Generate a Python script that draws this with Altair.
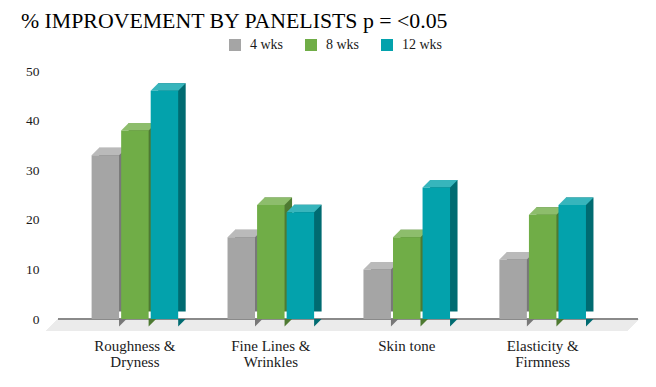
import altair as alt
import pandas as pd

categories = ["Roughness & Dryness", "Fine Lines & Wrinkles", "Skin tone", "Elasticity & Firmness"]
series = ["4 wks", "8 wks", "12 wks"]
wk4 = [33, 16.5, 10, 12]
wk8 = [38, 23, 16.5, 21]
wk12 = [46, 21.5, 26.5, 23]

front_colors = ["#a5a5a5", "#70ad47", "#03a2ac"]
top_colors = ["#bababa", "#8dbd6c", "#37b5bc"]
side_colors = ["#787878", "#4e7a32", "#006b71"]

rows = []
for s, vals in zip(series, [wk4, wk8, wk12]):
    for c, v in zip(categories, vals):
        rows.append({"category": c, "series": s, "value": v})
df = pd.DataFrame(rows)

W, H = 580, 248
D = 7.5  # 3D depth in px
PI, PO, ALIGN = 0.363, 0.315, 0.48
PI_OFF = 0.07
step = W / (len(categories) - PI + 2 * PO)
band = step * (1 - PI)
bw = band / (len(series) - PI_OFF) * (1 - PI_OFF)
hb = bw / 2

top_path = f"M{-hb - D:.2f},0 L{hb - D:.2f},0 L{hb:.2f},{-D} L{-hb:.2f},{-D} Z"
tri_path = f"M{hb - D:.2f},0 L{hb - D:.2f},{D} L{hb:.2f},0 Z"
floor_path = "M-290,0 L291,0 L279,12 L-302,12 Z"

font = "Liberation Serif"
label_expr = ("indexof(datum.label, '& ') > 0 ? "
              "[slice(datum.label, 0, indexof(datum.label, '& ') + 1), "
              "slice(datum.label, indexof(datum.label, '& ') + 2)] : datum.label")


def x_enc(shift, show_axis):
    axis = (alt.Axis(title=None, labelExpr=label_expr, ticks=False, domain=False, labelPadding=19,
                     labelLineHeight=16, labelAngle=0, labelFontSize=15)
            if show_axis else None)
    return alt.X("category:N", sort=categories,
                 scale=alt.Scale(type="band", paddingInner=PI, paddingOuter=PO, align=ALIGN,
                                 range=[shift, W + shift]),
                 axis=axis)


xo_enc = alt.XOffset("series:N", sort=series,
                     scale=alt.Scale(type="band", paddingInner=PI_OFF, paddingOuter=0))
y_scale = alt.Scale(domain=[0, 50], nice=False)
y_enc = alt.Y("value:Q", scale=y_scale,
              axis=alt.Axis(title=None, values=[0, 10, 20, 30, 40, 50], domain=False, ticks=False,
                            gridColor="#d9d9d9", gridWidth=1, labelPadding=19, labelFontSize=13.5))


def col(rng, legend=None):
    return alt.Color("series:N", sort=series, scale=alt.Scale(domain=series, range=rng), legend=legend)


base = alt.Chart(df)

floor = base.mark_point(
    shape=floor_path, size=4, filled=True, opacity=1, strokeWidth=0, color="#ebebeb"
).encode(x=alt.value(290), y=alt.Y(datum=0, scale=y_scale))

zero = base.mark_rule(color="#8a8a8a", strokeWidth=1.5).encode(y=alt.Y(datum=0, scale=y_scale))

back = base.mark_bar(yOffset=-D).encode(
    x=x_enc(0, False), xOffset=xo_enc, y=y_enc, color=col(side_colors))

tri = base.mark_point(shape=tri_path, size=4, filled=True, opacity=1, strokeWidth=0).encode(
    x=x_enc(0, False), xOffset=xo_enc, y=alt.Y(datum=0, scale=y_scale), color=col(side_colors))

top = base.mark_point(shape=top_path, size=4, filled=True, opacity=1, strokeWidth=0).encode(
    x=x_enc(0, False), xOffset=xo_enc, y=y_enc, color=col(top_colors))

front = base.mark_bar(y2Offset=D).encode(
    x=x_enc(-D, True), xOffset=xo_enc, y=y_enc,
    color=col(front_colors, alt.Legend(orient="none", legendX=170, legendY=-33, direction="horizontal",
                                       title=None, symbolType="square", symbolSize=144,
                                       symbolStrokeWidth=0, symbolOpacity=1, labelFont=font,
                                       labelFontSize=14, labelColor="#1a1a1a", labelOffset=8,
                                       columnPadding=20)))

chart = alt.layer(floor, zero, back, tri, top, front).resolve_scale(
    x="independent", xOffset="independent", color="independent"
).properties(
    width=W, height=H,
    autosize=alt.AutoSizeParams(type="none"),
    padding={"left": 50, "top": 63, "right": 10, "bottom": 55},
    title=alt.TitleParams("% IMPROVEMENT BY PANELISTS p = <0.05", anchor="start", frame="group",
                          font=font, fontSize=21.8, fontWeight="normal", color="#000000",
                          dx=-37, dy=-1.5)
).configure(
    background="white"
).configure_view(
    stroke=None
).configure_axis(
    labelFont=font, labelColor="#1a1a1a"
)

chart.save("out.html", embed_options={"renderer": "svg", "actions": False})
